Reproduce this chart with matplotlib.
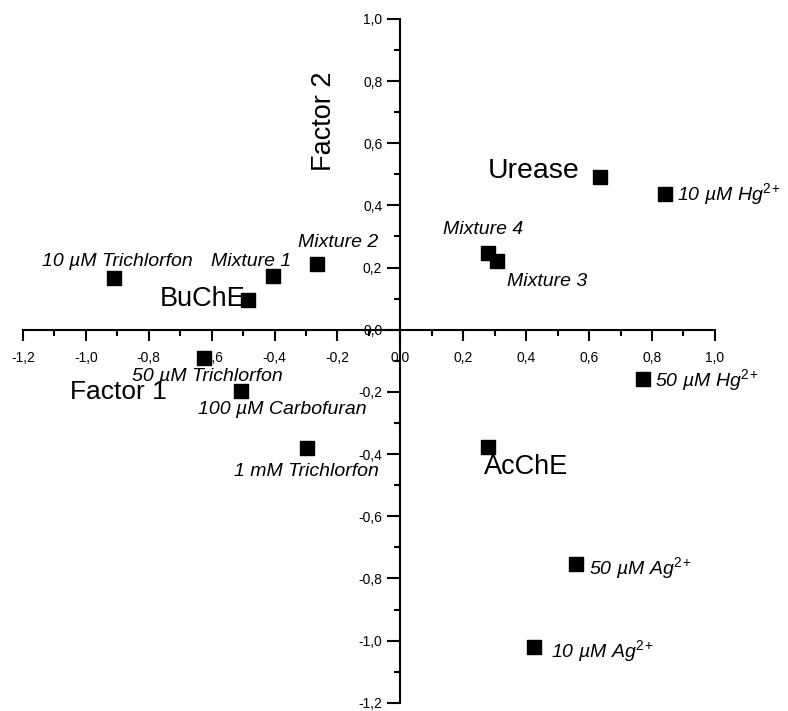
import matplotlib.pyplot as plt
from matplotlib.ticker import FuncFormatter, MultipleLocator

plt.rcParams['font.family'] = ['Liberation Sans', 'DejaVu Sans']
plt.rcParams['mathtext.fontset'] = 'custom'
plt.rcParams['mathtext.rm'] = 'Liberation Sans'
plt.rcParams['mathtext.it'] = 'Liberation Sans:italic'

# -----------------------------
# Data (factor scores)
# -----------------------------

names = ["Urease", "10 µM Hg$^{2+}$", "Mixture 4", "Mixture 3", "50 µM Hg$^{2+}$",
         "AcChE", "50 µM Ag$^{2+}$", "10 µM Ag$^{2+}$", "10 µM Trichlorfon",
         "Mixture 1", "Mixture 2", "BuChE", "50 µM Trichlorfon",
         "100 µM Carbofuran", "1 mM Trichlorfon"]
factor1 = [0.634, 0.841, 0.278, 0.307, 0.771, 0.278, 0.558, 0.424, -0.911,
           -0.405, -0.266, -0.485, -0.625, -0.507, -0.297]
factor2 = [0.49, 0.436, 0.247, 0.221, -0.16, -0.378, -0.753, -1.022, 0.167,
           0.173, 0.212, 0.096, -0.09, -0.196, -0.381]

# label anchor (x, y, ha) for each point
label_x = [0.568, 0.88, 0.262, 0.34, 0.81, 0.265, 0.6, 0.48, -1.14,
           -0.603, -0.326, -0.765, -0.855, -0.645, -0.53]
label_y = [0.51, 0.436, 0.324, 0.155, -0.163, -0.44, -0.765, -1.035, 0.218,
           0.221, 0.282, 0.1, -0.15, -0.257, -0.457]
label_ha = ["right", "left", "center", "left", "left", "left", "left", "left",
            "left", "left", "left", "left", "left", "left", "left"]
big_size = {"Urease": 20.5, "AcChE": 19.5, "BuChE": 19.5}

# -----------------------------
# Plot
# -----------------------------

fig = plt.figure(figsize=(7.88, 7.11), dpi=100)
ax = fig.add_axes([0.0292, 0.0115, 0.878, 0.962])

ax.scatter(factor1, factor2, marker='s', s=88, color='black', zorder=3)

for name, lx, ly, ha in zip(names, label_x, label_y, label_ha):
    if name in big_size:
        ax.text(lx, ly, name, fontsize=big_size[name], ha=ha, va='center')
    else:
        ax.text(lx, ly, name, fontsize=14, style='italic', ha=ha, va='center')

ax.text(-1.05, -0.2, "Factor 1", fontsize=19, ha='left', va='center')
ax.text(-0.243, 0.67, "Factor 2", fontsize=19.5, rotation=90, ha='center', va='center')

ax.set_xlim(-1.2, 1.0)
ax.set_ylim(-1.2, 1.0)

ax.spines['left'].set_position(('data', 0))
ax.spines['bottom'].set_position(('data', 0))
ax.spines['top'].set_visible(False)
ax.spines['right'].set_visible(False)
ax.spines['left'].set_linewidth(1.5)
ax.spines['bottom'].set_linewidth(1.5)

ax.xaxis.set_major_locator(MultipleLocator(0.2))
ax.xaxis.set_minor_locator(MultipleLocator(0.1))
ax.yaxis.set_major_locator(MultipleLocator(0.2))
ax.yaxis.set_minor_locator(MultipleLocator(0.1))

comma = FuncFormatter(lambda v, pos: f"{v:.1f}".replace('.', ',').replace('-0,0', '0,0'))
ax.xaxis.set_major_formatter(comma)
ax.yaxis.set_major_formatter(comma)

ax.tick_params(axis='x', which='major', direction='out', length=8, width=1.5, labelsize=10, pad=7)
ax.tick_params(axis='x', which='minor', direction='out', length=4.5, width=1.5)
ax.tick_params(axis='y', which='major', direction='out', length=9.5, width=1.5, labelsize=10, pad=3.5)
ax.tick_params(axis='y', which='minor', direction='out', length=4, width=1.5)

plt.savefig("out.png", dpi=100)
